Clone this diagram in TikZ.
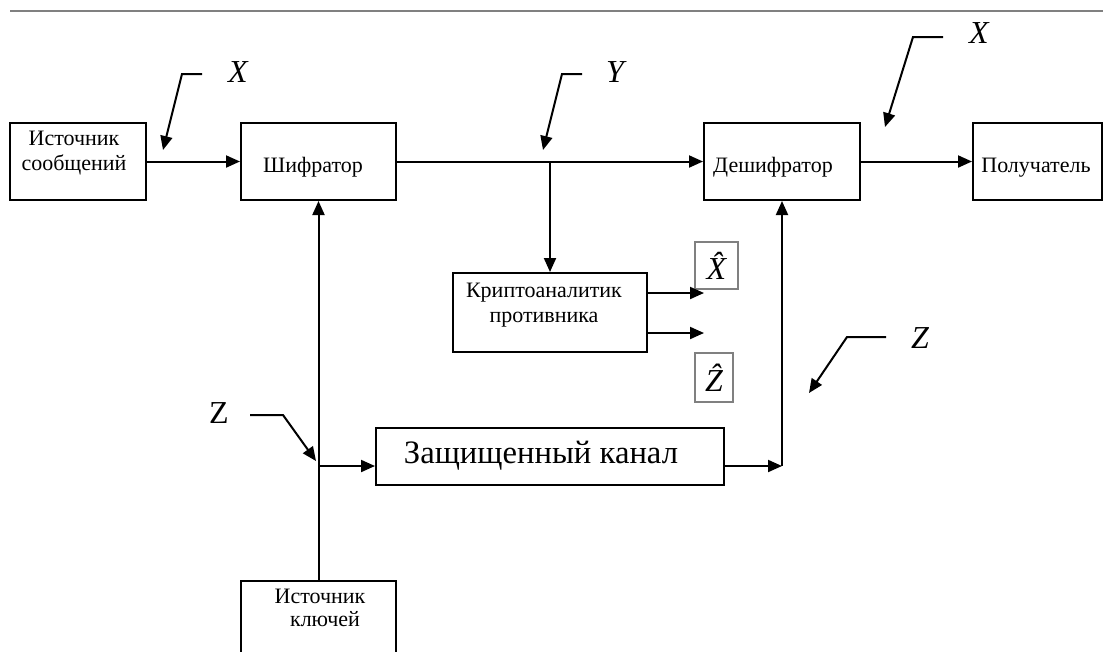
\documentclass[tikz,border=0pt]{standalone}
\usepackage{fontspec}
\setmainfont{Liberation Serif}
\usetikzlibrary{arrows.meta}
\begin{document}
\begin{tikzpicture}[x=0.75pt,y=-0.75pt,
  line width=1.5pt,
  blk/.style={draw,line width=1.5pt,inner sep=0pt,minimum height=57.75pt},
  txt/.style={font=\fontsize{16.5}{18.75}\selectfont,align=center,inner sep=0pt},
  sym/.style={font=\fontsize{24}{28}\selectfont\itshape,inner sep=0pt},
  estim/.style={draw=gray,line width=0.8pt,inner sep=0pt,font=\fontsize{24}{28}\selectfont\itshape},
  flow/.style={-{Triangle[length=10.5pt,width=9pt]}},
]
\clip (0,0) rectangle (1103,651);

% rule at the top
\draw[gray,line width=1pt] (10,11) -- (1103,11);

% blocks
\node[blk,minimum width=102pt]    (src)   at (78,161.5)   {};
\node[blk,minimum width=116.25pt] (enc)   at (318.5,161.5) {};
\node[blk,minimum width=117pt]    (dec)   at (782,161.5)  {};
\node[blk,minimum width=96.75pt]  (rcv)   at (1037.5,161.5) {};
\node[blk,minimum width=145.5pt,minimum height=59.25pt] (crypt) at (550,312.5) {};
\node[blk,minimum width=261pt,minimum height=42.75pt]   (chan)  at (550,456.5) {};
\node[blk,minimum width=116.25pt,minimum height=63pt]   (key)   at (318.5,623)  {};

% block texts
\node[txt] (srcT)   at (74,153)   {Источник\\сообщений};
\node[txt,anchor=base] (encT) at (313,172) {Шифратор};
\node[txt,anchor=base] (decT) at (773,172) {Дешифратор};
\node[txt,anchor=base] (rcvT) at (1036,172) {Получатель};
\node[txt] (cryptT) at (544,305)  {Криптоаналитик\\противника};
\node[txt,anchor=base] (keyT1) at (320,603) {Источник};
\node[txt,anchor=base] (keyT2) at (325,626) {ключей};
\node[font=\fontsize{24.5}{28}\selectfont,inner sep=0pt,anchor=base] (chanT) at (541,463) {Защищенный канал};

% signal labels
\node[sym,anchor=base] (lx1) at (238,82)  {X};
\node[sym,anchor=base] (ly)  at (615,82)  {Y};
\node[sym,anchor=base] (lx2) at (979,43)  {X};
\node[sym,anchor=base] (lz2) at (920,348) {Z};
\node[font=\fontsize{24}{28}\selectfont,inner sep=0pt,anchor=base] (lz1) at (219,423) {Z};

% estimates of the adversary
\node[estim,minimum width=32.25pt,minimum height=35.25pt] (xh) at (716.5,265.5) {\^{X}};
\node[estim,minimum width=28.5pt,minimum height=36.75pt]  (zh) at (714,377.5)  {\^{Z}};

% junctions and free ends
\coordinate (J) at (550,162);
\coordinate (K) at (318.5,466);
\coordinate (M) at (782,466);
\coordinate (o1) at (704,293);
\coordinate (o2) at (704,333);

% main flow
\draw[flow] (src.east) -- (enc.west);
\draw[flow] (enc.east) -- (dec.west);
\draw[flow] (dec.east) -- (rcv.west);
\draw[flow] (J) -- (crypt.north);
\draw[flow] (crypt.east |- o1) -- (o1);
\draw[flow] (crypt.east |- o2) -- (o2);
\draw[flow] (key.north) -- (enc.south);
\draw[flow] (K) -- (K -| chan.west);
\draw[flow] (chan.east |- M) -- (M);
\draw[flow] (M) -- (dec.south);

% pointers from the labels
\coordinate (p1a) at (202,74);  \coordinate (p1b) at (182,74);  \coordinate (p1c) at (163,150);
\coordinate (p2a) at (582,74);  \coordinate (p2b) at (562,74);  \coordinate (p2c) at (543,150);
\coordinate (p3a) at (943,37);  \coordinate (p3b) at (913,37);  \coordinate (p3c) at (885,127);
\coordinate (p4a) at (886,337); \coordinate (p4b) at (847,337); \coordinate (p4c) at (809,393);
\coordinate (p5a) at (250,415); \coordinate (p5b) at (283,415); \coordinate (p5c) at (316,461);
\draw[flow] (p1a) -- (p1b) -- (p1c);
\draw[flow] (p2a) -- (p2b) -- (p2c);
\draw[flow] (p3a) -- (p3b) -- (p3c);
\draw[flow] (p4a) -- (p4b) -- (p4c);
\draw[flow] (p5a) -- (p5b) -- (p5c);
\end{tikzpicture}
\end{document}
